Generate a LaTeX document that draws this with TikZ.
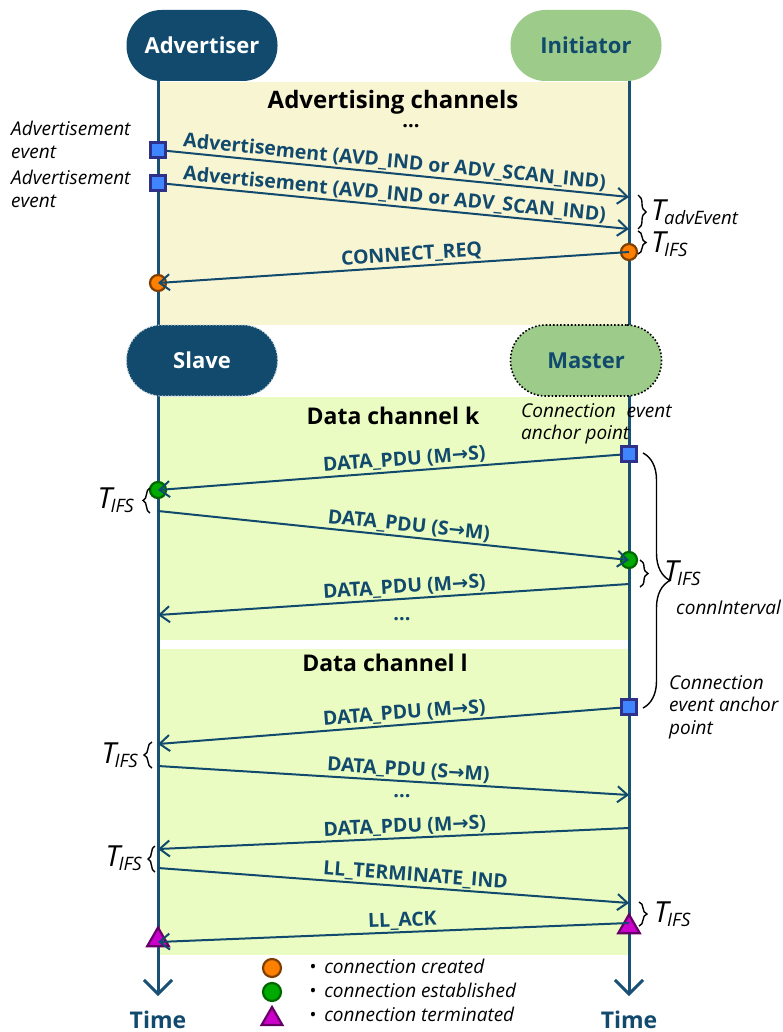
\documentclass[tikz,border=0pt]{standalone}
\usepackage{fontspec}
\setmainfont{Open Sans}
\newfontfamily\arrowfont{DejaVu Sans}
\usetikzlibrary{arrows.meta,decorations.pathreplacing,shapes.geometric}

\definecolor{navy}{HTML}{114A6D}
\definecolor{lifecol}{HTML}{1A5074}
\definecolor{pillgreen}{HTML}{9DCB89}
\definecolor{advbg}{HTML}{F8F5D3}
\definecolor{databg}{HTML}{EAFCC2}
\definecolor{sqfill}{HTML}{3F85FF}
\definecolor{sqedge}{HTML}{2E3189}
\definecolor{orfill}{HTML}{FF7F00}
\definecolor{oredge}{HTML}{7F3F00}
\definecolor{grfill}{HTML}{00AA00}
\definecolor{gredge}{HTML}{006600}
\definecolor{trfill}{HTML}{CC00CC}
\definecolor{tredge}{HTML}{660066}

% small arrow used inside message names
\newcommand\dirto{{\arrowfont\bfseries →}}
% interval symbol T with an italic subscript
\newcommand\tint[1]{{\fontsize{29}{29}\selectfont\itshape T}\kern-1.5pt\raisebox{-4pt}{\fontsize{18.5}{18.5}\selectfont\itshape #1}}

\begin{document}
\begin{tikzpicture}[x=1pt,y=-1pt,
  pill/.style={rectangle, rounded corners=35pt, minimum width=151pt, minimum height=71pt,
    inner sep=0pt, font=\fontsize{22}{22}\selectfont\bfseries},
  life/.style={draw=lifecol, line width=3pt, -{Straight Barb[length=14pt,width=28pt]}},
  msg/.style={draw=navy, line width=2pt, -{Straight Barb[length=10pt,width=16pt]}},
  lbl/.style={font=\fontsize{19.5}{19.5}\selectfont\bfseries, text=navy, sloped, above, inner sep=1.5pt},
  chtitle/.style={font=\fontsize{24}{24}\selectfont\bfseries, text=black},
  dots/.style={font=\fontsize{20}{20}\selectfont\bfseries, anchor=base},
  note/.style={font=\fontsize{19}{22.5}\selectfont\itshape, align=left, inner sep=0pt},
  sqm/.style={rectangle, minimum size=15pt, inner sep=0pt, fill=sqfill, draw=sqedge, line width=2.2pt},
  orm/.style={circle, minimum size=16pt, inner sep=0pt, fill=orfill, draw=oredge, line width=2.2pt},
  grm/.style={circle, minimum size=16pt, inner sep=0pt, fill=grfill, draw=gredge, line width=2.2pt},
  trm/.style={regular polygon, regular polygon sides=3, minimum size=25pt, inner sep=0pt,
    fill=trfill, draw=tredge, line width=2.2pt},
  brc/.style={draw=black, line width=1.4pt, decorate},
  tlbl/.style={inner sep=0pt},
  timelbl/.style={font=\fontsize{23}{23}\selectfont\bfseries, text=navy},
  legtxt/.style={font=\fontsize{19}{19}\selectfont\itshape, anchor=west, inner sep=0pt}]
\useasboundingbox (0,0) rectangle (783,1032);

% channel backgrounds
\fill[advbg] (158,82) rectangle (629,325);
\fill[databg] (158,397) rectangle (629,640);
\fill[databg] (158,649) rectangle (629,955);

% lifelines
\coordinate (Ltop) at (158,50);
\coordinate (Rtop) at (629,50);
\coordinate (Lend) at (158,996);
\coordinate (Rend) at (629,996);
\draw[life] (Ltop) -- (Lend);
\draw[life] (Rtop) -- (Rend);

% role boxes
\node[pill, fill=navy, text=white] (adv) at (202,45.5) {Advertiser};
\node[pill, fill=pillgreen, text=navy] (ini) at (586,45.5) {Initiator};
\node[pill, fill=navy, text=white, draw=white!75!navy, dotted, line width=1.2pt] (slv) at (202,360.5) {Slave};
\node[pill, fill=pillgreen, text=navy, draw=black, dotted, line width=1.6pt] (mst) at (586,360.5) {Master};

% channel titles
\node[chtitle] (tadv) at (393,102) {Advertising channels};
\node[dots] (dadv) at (411,128) {...};
\node[chtitle, font=\fontsize{23}{23}\selectfont\bfseries] (tk) at (393,416) {Data channel k};
\node[chtitle, font=\fontsize{23}{23}\selectfont\bfseries] (tl) at (385,663) {Data channel l};

% message end points
\coordinate (a1s) at (158,150); \coordinate (a1e) at (629,197);
\coordinate (a2s) at (158,183); \coordinate (a2e) at (629,229);
\coordinate (crs) at (629,252); \coordinate (cre) at (158,283);
\coordinate (k1s) at (629,454); \coordinate (k1e) at (158,490);
\coordinate (k2s) at (158,511); \coordinate (k2e) at (629,560);
\coordinate (k3s) at (629,584); \coordinate (k3e) at (158,615);
\coordinate (l1s) at (629,707); \coordinate (l1e) at (158,744);
\coordinate (l2s) at (158,766); \coordinate (l2e) at (629,795);
\coordinate (l3s) at (629,828); \coordinate (l3e) at (158,849);
\coordinate (l4s) at (158,868); \coordinate (l4e) at (629,903);
\coordinate (l5s) at (629,923); \coordinate (l5e) at (158,942);

% connection state markers (under the messages)
\node[orm] (mcr) at (crs) {};
\node[orm] (mce) at (cre) {};
\node[grm] (mk1) at (k1e) {};
\node[grm] (mk2) at (k2e) {};
\node[trm] (mt1) at (629,927) {};
\node[trm] (mt2) at (158,940) {};

% advertising messages
\draw[msg] (a1s) -- node[lbl, pos=0.5] {Advertisement (AVD\_IND or ADV\_SCAN\_IND)} (a1e);
\draw[msg] (a2s) -- node[lbl, pos=0.5] {Advertisement (AVD\_IND or ADV\_SCAN\_IND)} (a2e);
\draw[msg] (crs) -- node[lbl, pos=0.46] {CONNECT\_REQ} (cre);

% data channel k
\draw[msg] (k1s) -- node[lbl, pos=0.475] {DATA\_PDU (M\dirto S)} (k1e);
\draw[msg] (k2s) -- node[lbl, pos=0.53] {DATA\_PDU (S\dirto M)} (k2e);
\draw[msg] (k3s) -- node[lbl, pos=0.475] {DATA\_PDU (M\dirto S)} (k3e);
\node[dots, text=navy] (dk) at (402,620) {...};

% data channel l
\draw[msg] (l1s) -- node[lbl, pos=0.475] {DATA\_PDU (M\dirto S)} (l1e);
\draw[msg] (l2s) -- node[lbl, pos=0.53] {DATA\_PDU (S\dirto M)} (l2e);
\node[dots, text=navy] (dl) at (402,797) {...};
\draw[msg] (l3s) -- node[lbl, pos=0.475] {DATA\_PDU (M\dirto S)} (l3e);
\draw[msg] (l4s) -- node[lbl, pos=0.545] {LL\_TERMINATE\_IND} (l4e);
\draw[msg] (l5s) -- node[lbl, pos=0.48] {LL\_ACK} (l5e);

% event markers (on top of the messages)
\node[sqm] (ms1) at (a1s) {};
\node[sqm] (ms2) at (a2s) {};
\node[sqm] (ms3) at (k1s) {};
\node[sqm] (ms4) at (l1s) {};

% side notes
\node[note, anchor=north west] (ev1) at (11,121) {Advertisement\\event};
\node[note, anchor=north west] (ev2) at (11,170) {Advertisement\\event};
\node[note, anchor=north west] (anc1) at (521,403) {Connection\hspace{11pt}event\\anchor point};
\node[note, anchor=north west] (anc2) at (669,675) {Connection\\event anchor\\point};

% interval braces
\draw[brc, decoration={brace, amplitude=8pt}] (638,195) -- (638,229);
\node[tlbl, anchor=west] (tae) at (651,212) {\tint{advEvent}};
\draw[brc, decoration={brace, amplitude=8pt}] (638,231) -- (638,254);
\node[tlbl, anchor=west] (ti1) at (651,244) {\tint{IFS}};

\draw[brc, decoration={brace, amplitude=7pt}] (150,513) -- (150,488);
\node[tlbl, anchor=east] (ti2) at (134,500) {\tint{IFS}};

\draw[brc, decoration={brace, amplitude=8pt}] (640,560) -- (640,587);
\node[tlbl, anchor=west] (ti3) at (664,573) {\tint{IFS}};

\draw[brc, decoration={brace, amplitude=27pt}] (643,453) -- (643,708);
\node[note, anchor=west] (ci) at (676,607) {connInterval};

\draw[brc, decoration={brace, amplitude=8pt}] (152,768) -- (152,742);
\node[tlbl, anchor=east] (ti4) at (138,755) {\tint{IFS}};

\draw[brc, decoration={brace, amplitude=7pt}] (155,872) -- (155,846);
\node[tlbl, anchor=east] (ti5) at (142,858) {\tint{IFS}};

\draw[brc, decoration={brace, amplitude=8pt}] (639,902) -- (639,926);
\node[tlbl, anchor=west] (ti6) at (654,914) {\tint{IFS}};

% time axes
\node[timelbl] (timeL) at (158,1020) {Time};
\node[timelbl] (timeR) at (629,1020) {Time};

% legend
\node[orm, minimum size=18pt] (lg1) at (272,968) {};
\node[grm, minimum size=18pt] (lg2) at (272,992) {};
\node[trm, minimum size=24pt] (lg3) at (272,1019) {};
\node[legtxt] (lt1) at (309,966) {\textbullet\hspace{8pt}connection created};
\node[legtxt] (lt2) at (309,990) {\textbullet\hspace{8pt}connection established};
\node[legtxt] (lt3) at (309,1014) {\textbullet\hspace{8pt}connection terminated};
\end{tikzpicture}
\end{document}
